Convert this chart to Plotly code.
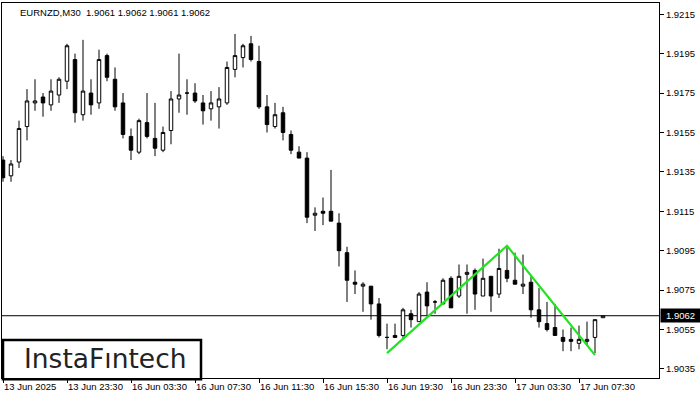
import plotly.graph_objects as go

# ---- data (EURNZD M30) ----
opens = [1.9141, 1.9133, 1.9140, 1.9158, 1.9170, 1.9173, 1.9169, 1.9174, 1.9181, 1.9192,
         1.9164, 1.9175, 1.9170, 1.9194, 1.9182, 1.9170, 1.9153, 1.9145, 1.9160, 1.9152,
         1.9146, 1.9156, 1.9172, 1.9175, 1.9175, 1.9170, 1.9167, 1.9168, 1.9170, 1.9187,
         1.9193, 1.9200, 1.9191, 1.9168, 1.9158, 1.9165, 1.9154, 1.9145, 1.9142, 1.9113,
         1.9115, 1.9115, 1.9109, 1.9094, 1.9079, 1.9077, 1.9077, 1.9068, 1.9051, 1.9052,
         1.9052, 1.9063, 1.9059, 1.9074, 1.9069, 1.9068, 1.9081, 1.9072, 1.9083, 1.9085,
         1.9072, 1.9082, 1.9073, 1.9085, 1.9080, 1.9077, 1.9079, 1.9065, 1.9058, 1.9056,
         1.9051, 1.9050, 1.9048, 1.9049, 1.9051, 1.9061]
highs = [1.9143, 1.9141, 1.9161, 1.9177, 1.9182, 1.9175, 1.9182, 1.9183, 1.9200, 1.9195,
         1.9202, 1.9182, 1.9197, 1.9195, 1.9188, 1.9175, 1.9157, 1.9162, 1.9175, 1.9170,
         1.9158, 1.9176, 1.9195, 1.9182, 1.9180, 1.9174, 1.9176, 1.9178, 1.9191, 1.9205,
         1.9200, 1.9204, 1.9199, 1.9174, 1.9170, 1.9168, 1.9156, 1.9148, 1.9145, 1.9117,
         1.9122, 1.9136, 1.9114, 1.9097, 1.9085, 1.9079, 1.9077, 1.9071, 1.9058, 1.9058,
         1.9066, 1.9065, 1.9074, 1.9079, 1.9070, 1.9081, 1.9082, 1.9088, 1.9088, 1.9086,
         1.9091, 1.9082, 1.9096, 1.9097, 1.9094, 1.9093, 1.9082, 1.9076, 1.9069, 1.9068,
         1.9055, 1.9056, 1.9057, 1.9059, 1.9060, 1.9062]
lows = [1.9130, 1.9130, 1.9137, 1.9151, 1.9166, 1.9163, 1.9166, 1.9170, 1.9177, 1.9160,
        1.9161, 1.9164, 1.9167, 1.9181, 1.9166, 1.9152, 1.9141, 1.9144, 1.9152, 1.9143,
        1.9145, 1.9149, 1.9165, 1.9164, 1.9170, 1.9159, 1.9161, 1.9157, 1.9169, 1.9183,
        1.9188, 1.9191, 1.9167, 1.9155, 1.9157, 1.9151, 1.9144, 1.9142, 1.9109, 1.9105,
        1.9108, 1.9110, 1.9087, 1.9069, 1.9073, 1.9064, 1.9060, 1.9051, 1.9045, 1.9051,
        1.9050, 1.9056, 1.9059, 1.9062, 1.9063, 1.9068, 1.9066, 1.9071, 1.9063, 1.9065,
        1.9072, 1.9064, 1.9071, 1.9079, 1.9078, 1.9073, 1.9061, 1.9056, 1.9054, 1.9052,
        1.9044, 1.9044, 1.9045, 1.9047, 1.9043, 1.9061]
closes = [1.9132, 1.9139, 1.9157, 1.9171, 1.9171, 1.9170, 1.9176, 1.9182, 1.9199, 1.9165,
          1.9176, 1.9169, 1.9192, 1.9183, 1.9168, 1.9154, 1.9146, 1.9161, 1.9153, 1.9147,
          1.9155, 1.9172, 1.9174, 1.9175, 1.9171, 1.9166, 1.9170, 1.9172, 1.9188, 1.9194,
          1.9199, 1.9192, 1.9168, 1.9159, 1.9164, 1.9155, 1.9146, 1.9142, 1.9112, 1.9114,
          1.9114, 1.9110, 1.9095, 1.9080, 1.9078, 1.9078, 1.9068, 1.9052, 1.9051, 1.9051,
          1.9065, 1.9060, 1.9073, 1.9067, 1.9069, 1.9080, 1.9066, 1.9082, 1.9084, 1.9073,
          1.9081, 1.9072, 1.9086, 1.9081, 1.9078, 1.9078, 1.9065, 1.9059, 1.9055, 1.9052,
          1.9049, 1.9049, 1.9050, 1.9050, 1.9060, 1.9062]
bar_index = list(range(len(opens)))

tick_index = [0, 8, 16, 24, 32, 40, 48, 56, 64, 72]
tick_labels = ["13 Jun 2025", "13 Jun 23:30", "16 Jun 03:30", "16 Jun 07:30",
               "16 Jun 11:30", "16 Jun 15:30", "16 Jun 19:30", "16 Jun 23:30",
               "17 Jun 03:30", "17 Jun 07:30"]
price_ticks = [1.9035, 1.9055, 1.9075, 1.9095, 1.9115, 1.9135, 1.9155, 1.9175, 1.9195, 1.9215]

pattern_index = [48, 63, 74]
pattern_price = [1.9043, 1.90975, 1.9042]

current_price = 1.9062
title_text = "EURNZD,M30  1.9061 1.9062 1.9061 1.9062"

FONT = "Liberation Sans"

fig = go.Figure()
fig.add_trace(go.Candlestick(
    x=bar_index, open=opens, high=highs, low=lows, close=closes,
    increasing=dict(line=dict(color="black", width=1), fillcolor="white"),
    decreasing=dict(line=dict(color="black", width=1), fillcolor="black"),
    whiskerwidth=0, showlegend=False, hoverinfo="skip",
))
fig.add_trace(go.Scatter(
    x=pattern_index, y=pattern_price, mode="lines",
    line=dict(color="#1ee61e", width=2.2), showlegend=False, hoverinfo="skip",
))

fig.update_layout(
    width=700, height=400,
    margin=dict(l=2, r=41, t=3, b=22),
    paper_bgcolor="white", plot_bgcolor="white",
    boxgap=0.38,
    font=dict(family=FONT, size=9.5, color="black"),
    xaxis=dict(
        type="linear", range=[-0.125, 82], rangeslider=dict(visible=False),
        tickvals=tick_index, ticktext=tick_labels,
        ticks="outside", ticklen=4, tickcolor="black", tickwidth=1,
        ticklabelposition="outside right",
        showgrid=False, zeroline=False,
        showline=True, mirror=True, linecolor="black", linewidth=1,
        tickfont=dict(family=FONT, size=9.5, color="black"),
    ),
    yaxis=dict(
        side="right", range=[1.90304, 1.92207],
        tickvals=price_ticks, tickformat=".4f",
        ticks="outside", ticklen=4, tickcolor="black", tickwidth=1,
        showgrid=False, zeroline=False,
        showline=True, mirror=True, linecolor="black", linewidth=1,
        tickfont=dict(family=FONT, size=9.5, color="black"),
    ),
)

# current price line
fig.add_shape(type="line", xref="paper", x0=0, x1=1, yref="y",
              y0=current_price, y1=current_price,
              line=dict(color="black", width=1), layer="below")
fig.add_annotation(xref="paper", x=1, xanchor="left", xshift=1,
                   yref="y", y=current_price, yanchor="middle",
                   text=f"{current_price:.4f}", showarrow=False,
                   bgcolor="black", width=37, height=11, borderpad=1,
                   font=dict(family=FONT, size=9.5, color="white"))

# title
fig.add_annotation(xref="paper", x=0.0244, xanchor="left",
                   yref="paper", y=1, yanchor="top", yshift=-2,
                   text=title_text, showarrow=False,
                   font=dict(family=FONT, size=9.5, color="black"))

# logo box
fig.add_shape(type="rect", xref="paper", yref="paper",
              x0=0.0015, x1=0.3029, y0=-0.003, y1=0.1013,
              line=dict(color="black", width=2.5), fillcolor="white", layer="above")
fig.add_annotation(xref="paper", x=0.1568, xanchor="center",
                   yref="paper", y=0.053, yanchor="middle",
                   text="InstaF\u0131ntech", showarrow=False,
                   font=dict(family="DejaVu Sans", size=26.5, color="#222222"))

fig.write_html("out.html",
               config={"displayModeBar": False},
               post_script="document.body.style.margin='0';document.body.style.padding='0';")
